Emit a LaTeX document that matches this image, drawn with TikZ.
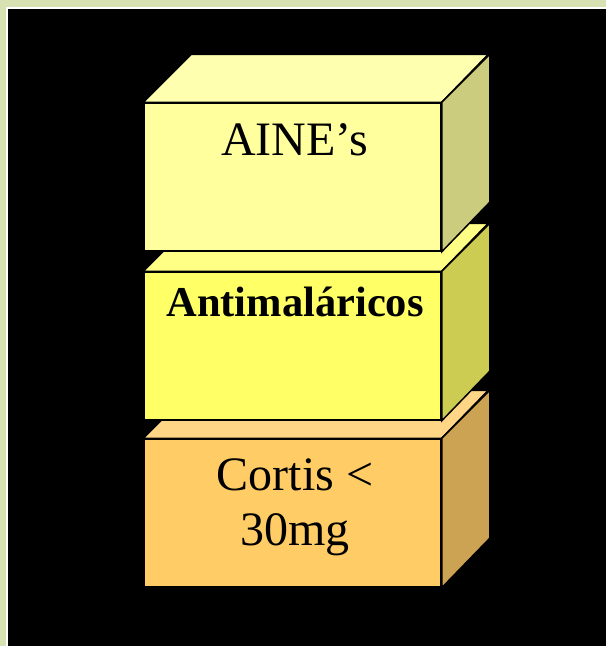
\documentclass[tikz,border=0pt]{standalone}
\usepackage{fontspec}
\setmainfont{Liberation Serif}
\definecolor{bggreen}{HTML}{D6E2B2}
\definecolor{aFront}{HTML}{FFFF9E}
\definecolor{aTop}{HTML}{FFFFB0}
\definecolor{aSide}{HTML}{CCCC7E}
\definecolor{bFront}{HTML}{FFFF66}
\definecolor{bTop}{HTML}{FFFF85}
\definecolor{bSide}{HTML}{CCCC52}
\definecolor{cFront}{HTML}{FFCC66}
\definecolor{cTop}{HTML}{FFD685}
\definecolor{cSide}{HTML}{CCA352}
\tikzset{
  face/.style={draw=black, line width=1.5pt, line join=miter, rectangle, inner sep=0pt,
    minimum width=297pt, minimum height=148pt},
  facet/.style={draw=black, line width=1.5pt, line join=miter},
  lbl/.style={anchor=base, inner sep=0pt, text=black, align=center},
}
\newcommand{\boxfaces}[3]{%
  \draw[facet, fill=#2] (#1.north west) -- ++(48,-48) -- ++(297,0) -- (#1.north east) -- cycle;
  \draw[facet, fill=#3] (#1.north east) -- ++(48,-48) -- ++(0,148) -- (#1.south east) -- cycle;
}
\begin{document}
\begin{tikzpicture}[x=1pt, y=-1pt]
  \useasboundingbox (0,0) rectangle (606,646);
  \fill[bggreen] (0,0) rectangle (606,646);
  \fill[white] (6,7) rectangle (606,646);
  \fill[black] (8,9) rectangle (606,646);
  % bottom box
  \node[face, fill=cFront] (cortisbox) at (292.5,513) {};
  \boxfaces{cortisbox}{cTop}{cSide}
  % middle box
  \node[face, fill=bFront] (antibox) at (292.5,346) {};
  \boxfaces{antibox}{bTop}{bSide}
  % top box
  \node[face, fill=aFront] (ainebox) at (292.5,177) {};
  \boxfaces{ainebox}{aTop}{aSide}
  % labels
  \node[lbl, font=\fontsize{48}{54.5}\selectfont] (aine) at (294.5,155) {AINE’s};
  \node[lbl, font=\fontsize{42.5}{48}\selectfont\bfseries] (anti) at (295,316.7) {Antimaláricos};
  \node[lbl, font=\fontsize{48}{54.5}\selectfont] (cortis) at (295,545.2) {Cortis <\\30mg};
\end{tikzpicture}
\end{document}
